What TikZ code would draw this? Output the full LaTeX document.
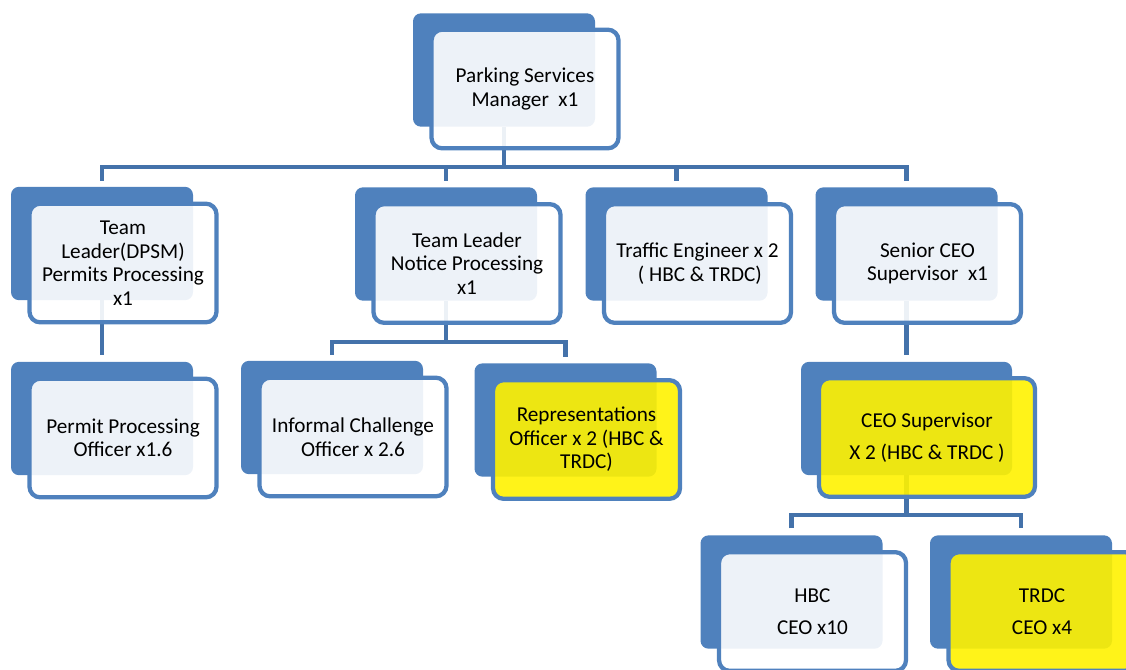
\documentclass[tikz,border=0pt]{standalone}
\usepackage{fontspec}
\setmainfont{Carlito}
\usepackage{tikz}
\usetikzlibrary{positioning}

\definecolor{boxblue}{RGB}{79,129,189}
\definecolor{linkblue}{RGB}{68,114,170}

\tikzset{
  backbox/.style={fill=boxblue, rounded corners=6pt, inner sep=0pt,
    minimum width=136.5pt, minimum height=85pt},
  frontbox/.style={draw=boxblue, line width=3.2pt, fill=white, fill opacity=0.9,
    text opacity=1, rounded corners=8pt, inner sep=2pt, align=center,
    minimum width=140.25pt, minimum height=89pt,
    font=\fontsize{15.9}{17.6}\selectfont},
  hilite/.style={frontbox, fill=yellow},
  link/.style={draw=linkblue, line width=3.6pt}
}

\begin{document}
\begin{tikzpicture}[x=0.75pt,y=-0.75pt]
\clip (0,0) rectangle (1126,669);
% back plates
\node[backbox] (mgrb) at (504,70) {};
\node[backbox] (tlab) at (102,243.5) {};
\node[backbox] (ppob) at (102,418.5) {};
\node[backbox] (tlnb) at (446,244) {};
\node[backbox] (icob) at (332,417.5) {};
\node[backbox] (repb) at (565.5,420) {};
\node[backbox] (trab) at (676.5,244) {};
\node[backbox] (senb) at (906.5,244) {};
\node[backbox, minimum width=158.25pt] (ceob) at (906.5,418.5) {};
\node[backbox] (hbcb) at (791.5,592) {};
\node[backbox] (trdb) at (1021,592) {};
% rails
\coordinate (toprail) at (0,167);
\coordinate (noticerail) at (0,342);
\coordinate (ceorail) at (0,515);
% connectors
\draw[link] (mgrb.south) -- (mgrb.south |- toprail);
\draw[link] ([yshift=4.5pt]tlab.north) -- (tlab.north |- toprail) -- (senb.north |- toprail) -- ([yshift=4.5pt]senb.north);
\draw[link] (tlnb.north |- toprail) -- ([yshift=4.5pt]tlnb.north);
\draw[link] (trab.north |- toprail) -- ([yshift=4.5pt]trab.north);
\draw[link] (tlab.south) -- ([yshift=5pt]ppob.north);
\draw[link] (tlnb.south) -- (tlnb.south |- noticerail);
\draw[link] ([yshift=4.5pt]icob.north) -- (icob.north |- noticerail) -- (repb.north |- noticerail) -- ([yshift=4.5pt]repb.north);
\draw[link] (senb.south) -- ([yshift=5pt]ceob.north);
\draw[link] (ceob.south) -- (ceob.south |- ceorail);
\draw[link] ([yshift=5pt]hbcb.north) -- (hbcb.north |- ceorail) -- (trdb.north |- ceorail) -- ([yshift=5pt]trdb.north);
% front boxes
\node[frontbox] (mgr) at ([shift={(21,19)}]mgrb.center) {Parking Services\\Manager\ \ x1};
\node[frontbox] (tla) at ([shift={(21,19.5)}]tlab.center) {Team\\Leader(DPSM)\\Permits Processing\\x1};
\node[frontbox] (ppo) at ([shift={(21,19.5)}]ppob.center) {Permit Processing\\Officer x1.6};
\node[frontbox] (tln) at ([shift={(21,19.5)}]tlnb.center) {Team Leader\\Notice Processing\\x1};
\node[frontbox] (ico) at ([shift={(21,19.5)}]icob.center) {Informal Challenge\\Officer x 2.6};
\node[hilite] (rep) at ([shift={(21,19.5)}]repb.center) {Representations\\Officer x 2 (HBC \&\\TRDC)};
\node[frontbox] (tra) at ([shift={(21,19.5)}]trab.center) {Traffic Engineer x 2\\\ ( HBC \& TRDC)};
\node[frontbox] (sen) at ([shift={(21,19.5)}]senb.center) {Senior CEO\\Supervisor\ \ x1};
\node[hilite, minimum width=162pt] (ceo) at ([shift={(20.5,19)}]ceob.center) {CEO Supervisor\\[6pt]X 2 (HBC \& TRDC )};
\node[frontbox] (hbc) at ([shift={(21,19.5)}]hbcb.center) {HBC\\[6pt]CEO x10};
\node[hilite] (trd) at ([shift={(21,19.5)}]trdb.center) {TRDC\\[6pt]CEO x4};
\end{tikzpicture}
\end{document}
